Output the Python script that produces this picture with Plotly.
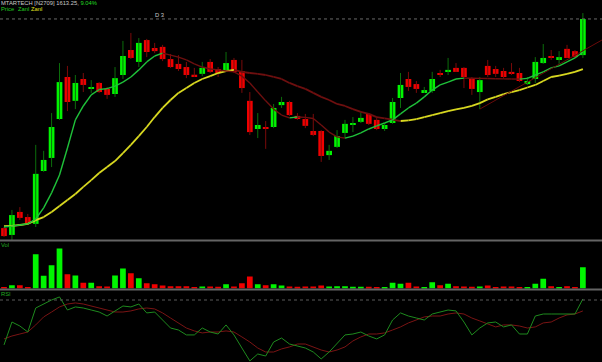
import plotly.graph_objects as go

# ---------------- data ----------------
opens = [877, 853, 934, 916, 892, 1078, 1124, 1261, 1409, 1325,
         1402, 1367, 1388, 1367, 1349, 1416, 1504, 1462, 1539, 1511,
         1515, 1472, 1455, 1444, 1416, 1420, 1462, 1437, 1430, 1469,
         1430, 1325, 1226, 1233, 1233, 1310, 1321, 1272, 1261, 1219,
         1219, 1134, 1163, 1212, 1240, 1251, 1279, 1258, 1226, 1247,
         1335, 1402, 1384, 1356, 1360, 1423, 1427, 1441, 1441, 1405,
         1356, 1448, 1437, 1430, 1427, 1423, 1384, 1402, 1458, 1483,
         1472, 1508, 1500, 1486]
highs = [881, 941, 951, 927, 1170, 1149, 1282, 1458, 1448, 1416,
         1423, 1398, 1391, 1374, 1444, 1536, 1564, 1546, 1543, 1529,
         1522, 1490, 1486, 1462, 1441, 1462, 1472, 1444, 1497, 1476,
         1469, 1356, 1282, 1254, 1314, 1339, 1325, 1282, 1279, 1279,
         1222, 1170, 1222, 1258, 1268, 1286, 1282, 1268, 1247, 1335,
         1423, 1427, 1395, 1374, 1427, 1434, 1476, 1458, 1444, 1409,
         1409, 1469, 1448, 1441, 1458, 1441, 1409, 1479, 1525, 1504,
         1500, 1522, 1504, 1634]
lows = [846, 835, 906, 888, 881, 1075, 1092, 1258, 1289, 1296,
        1356, 1353, 1353, 1332, 1339, 1402, 1472, 1444, 1479, 1493,
        1465, 1441, 1430, 1405, 1409, 1412, 1423, 1409, 1427, 1423,
        1353, 1205, 1194, 1156, 1229, 1300, 1272, 1258, 1229, 1201,
        1110, 1117, 1159, 1194, 1215, 1247, 1240, 1222, 1219, 1244,
        1300, 1360, 1353, 1353, 1353, 1409, 1416, 1427, 1370, 1346,
        1296, 1409, 1409, 1402, 1416, 1391, 1381, 1388, 1455, 1469,
        1455, 1476, 1476, 1476]
closes = [849, 923, 913, 895, 1068, 1117, 1233, 1391, 1321, 1388,
          1381, 1370, 1356, 1346, 1405, 1483, 1476, 1529, 1497, 1500,
          1472, 1444, 1437, 1416, 1412, 1441, 1427, 1423, 1458, 1427,
          1370, 1215, 1240, 1226, 1300, 1321, 1275, 1261, 1237, 1205,
          1131, 1149, 1201, 1244, 1247, 1265, 1244, 1226, 1240, 1321,
          1381, 1374, 1367, 1363, 1402, 1416, 1434, 1427, 1409, 1367,
          1398, 1416, 1420, 1409, 1420, 1395, 1395, 1462, 1476, 1476,
          1479, 1476, 1479, 1613.25]

ma_short = [881, 884, 888, 892, 909, 948, 1001, 1064, 1159, 1258,
            1307, 1346, 1365, 1368, 1377, 1391, 1409, 1434, 1462, 1483,
            1493, 1486, 1479, 1469, 1455, 1444, 1437, 1434, 1430, 1427,
            1412, 1388, 1356, 1325, 1296, 1275, 1265, 1268, 1267, 1263,
            1240, 1215, 1198, 1194, 1201, 1212, 1226, 1237, 1247, 1258,
            1279, 1300, 1317, 1339, 1363, 1381, 1391, 1402, 1405, 1404.5,
            1404, 1403.5, 1403, 1402.5, 1402, 1401.5, 1404, 1416, 1427, 1441,
            1448, 1462, 1476, 1497]
ma_long = [884, 885, 888, 892, 905, 916, 934, 955, 976, 997,
           1022, 1046, 1071, 1092, 1113, 1141, 1170, 1201, 1233, 1268,
           1300, 1328, 1353, 1370, 1388, 1402, 1412, 1423, 1430, 1434,
           1427, 1423, 1420, 1416, 1409, 1402, 1388, 1377, 1367, 1353,
           1339, 1328, 1314, 1307, 1296, 1286, 1279, 1268, 1263, 1259,
           1254, 1256, 1261, 1268, 1275, 1282, 1289, 1295, 1300, 1307,
           1317, 1330, 1339, 1349, 1356, 1363, 1372, 1381, 1395, 1409,
           1414, 1420, 1427, 1437]

volume = [60, 200, 200, 80, 2060, 760, 1400, 2400, 860, 780,
          340, 340, 140, 120, 780, 1200, 920, 620, 320, 260,
          180, 140, 140, 140, 80, 120, 120, 100, 260, 120,
          320, 720, 260, 200, 260, 180, 120, 100, 120, 120,
          180, 120, 140, 140, 100, 100, 100, 80, 60, 340,
          280, 340, 120, 40, 380, 200, 280, 140, 120, 100,
          120, 180, 80, 120, 120, 80, 80, 280, 580, 140,
          80, 140, 80, 1280]

rsi = [36.3, 53.5, 50.5, 46.0, 64.0, 67.0, 70.0, 72.3, 62.5, 64.8,
       64.0, 62.5, 61.0, 58.0, 61.8, 65.5, 64.8, 67.0, 60.3, 61.0,
       55.0, 49.0, 47.5, 43.8, 43.8, 49.0, 46.0, 44.5, 51.3, 43.8,
       34.0, 24.3, 29.5, 28.0, 38.5, 41.5, 37.0, 35.5, 34.0, 31.0,
       25.8, 31.0, 37.8, 43.8, 44.5, 46.0, 43.0, 40.8, 43.8, 55.0,
       60.3, 58.0, 56.5, 55.0, 59.5, 61.0, 62.5, 61.8, 53.5, 43.8,
       49.0, 52.8, 53.5, 49.8, 51.3, 44.5, 44.5, 58.0, 59.5, 59.5,
       59.5, 59.5, 59.5, 70.8]
rsi_ma = [40.8, 43.0, 44.5, 46.0, 51.3, 57.3, 61.0, 64.8, 67.0, 67.8,
          67.0, 65.5, 64.0, 62.5, 61.0, 61.0, 61.8, 63.3, 64.0, 63.3,
          60.3, 56.5, 52.8, 49.0, 46.8, 45.3, 46.0, 46.0, 46.8, 46.0,
          42.3, 38.5, 34.0, 31.0, 31.0, 33.3, 34.8, 37.0, 37.0, 34.8,
          32.5, 31.0, 32.5, 34.8, 39.3, 42.3, 44.5, 44.5, 45.3, 47.5,
          49.8, 52.8, 55.0, 57.3, 58.0, 58.0, 59.5, 60.3, 59.5, 56.5,
          54.3, 52.0, 49.8, 51.3, 51.3, 50.5, 49.0, 49.8, 52.8, 53.5,
          56.5, 58.8, 59.5, 61.8]

trend_x = [60, 75.4]
trend_y = [1296, 1539]
rsi_level = 70
title_text = "MTARTECH [N2709] 1613.25,"
change_text = "9.04%"
legend_items = ["Price", "Zanl", "Zanl"]

# ---------------- styling ----------------
UP = "#00F500"
DOWN = "#F00000"
UP_WICK = "#0B6E0B"
DOWN_WICK = "#7A0A0A"
MA_UP = "#1FC23A"
MA_DOWN = "#6E0F0F"
LONG_UP = "#D8D820"
RSI_C = "#1E8A1E"
RSI_MA_C = "#7A1414"

n = len(closes)
idx = list(range(n))
is_up = [c >= o for o, c in zip(opens, closes)]

fig = go.Figure()

# wicks
for up, col in ((True, UP_WICK), (False, DOWN_WICK)):
    wx, wy = [], []
    for i in idx:
        if is_up[i] == up:
            wx += [i, i, None]
            wy += [lows[i], highs[i], None]
    fig.add_trace(go.Scatter(x=wx, y=wy, mode="lines", line=dict(color=col, width=1),
                             hoverinfo="skip", yaxis="y"))

# bodies
bases = [min(o, c) for o, c in zip(opens, closes)]
hts = [max(abs(c - o), 5) for o, c in zip(opens, closes)]
fig.add_trace(go.Bar(x=idx, y=hts, base=bases, width=0.72,
                     marker=dict(color=[UP if u else DOWN for u in is_up], line=dict(width=0)),
                     yaxis="y", hoverinfo="skip"))


def colored_segments(vals, up_col, down_col, width):
    for direction, col in ((1, up_col), (-1, down_col)):
        sx, sy = [], []
        for i in range(n - 1):
            rising = vals[i + 1] >= vals[i]
            if (rising and direction == 1) or (not rising and direction == -1):
                sx += [i, i + 1, None]
                sy += [vals[i], vals[i + 1], None]
        fig.add_trace(go.Scatter(x=sx, y=sy, mode="lines",
                                 line=dict(color=col, width=width, shape="linear"),
                                 hoverinfo="skip", yaxis="y", connectgaps=False))


colored_segments(ma_long, LONG_UP, MA_DOWN, 1.8)
colored_segments(ma_short, MA_UP, MA_DOWN, 1.4)

# trend line
fig.add_trace(go.Scatter(x=trend_x, y=trend_y, mode="lines",
                         line=dict(color="#6A0A0A", width=1), hoverinfo="skip", yaxis="y"))

# volume
fig.add_trace(go.Bar(x=idx, y=volume, width=0.72,
                     marker=dict(color=[UP if u else DOWN for u in is_up], line=dict(width=0)),
                     yaxis="y2", hoverinfo="skip"))

# RSI
fig.add_trace(go.Scatter(x=idx, y=rsi_ma, mode="lines", line=dict(color=RSI_MA_C, width=1),
                         yaxis="y3", hoverinfo="skip"))
fig.add_trace(go.Scatter(x=idx, y=rsi, mode="lines", line=dict(color=RSI_C, width=1),
                         yaxis="y3", hoverinfo="skip"))

W, H = 602, 362


def py(p):
    return 1 - p / H


shapes = [
    dict(type="line", xref="paper", x0=0, x1=1, yref="y", y0=closes[-1], y1=closes[-1],
         line=dict(color="#6A6A6A", width=1, dash="dot")),
    dict(type="line", xref="paper", x0=0, x1=1, yref="paper", y0=py(240.5), y1=py(240.5),
         line=dict(color="#646464", width=2)),
    dict(type="line", xref="paper", x0=0, x1=1, yref="paper", y0=py(289.5), y1=py(289.5),
         line=dict(color="#646464", width=2)),
    dict(type="line", xref="paper", x0=0, x1=1, yref="y3", y0=rsi_level, y1=rsi_level,
         line=dict(color="#5A5A5A", width=1, dash="dot")),
]

font = "Liberation Sans"
FS = 5.8


def label(px, ptop, text, color, anchor="left"):
    return dict(xref="paper", yref="paper", x=px / W, y=py(ptop), xanchor=anchor, yanchor="top",
                showarrow=False, text=text, font=dict(family=font, size=FS, color=color),
                borderpad=0)


legend_cols = ["#22CC22", "#22CC22", "#E0E020"]
legend_x = [0, 17, 30]
annotations = [
    label(0, -1,
          f"<span style='color:#C8C8C8'>{title_text} </span><span style='color:#22DD22'>{change_text}</span>",
          "#C8C8C8"),
    label(159, 11, "D 3", "#C8C8C8", "center"),
    label(0, 241, "Vol", "#22AA22"),
    label(0, 290, "RSI", "#22AA22"),
]
for t, c, x in zip(legend_items, legend_cols, legend_x):
    annotations.append(label(x, 5, t, c))

ax_common = dict(showgrid=False, zeroline=False, showticklabels=False, ticks="", showline=False)
fig.update_layout(
    width=W, height=H, margin=dict(l=0, r=0, t=0, b=0),
    paper_bgcolor="#000000", plot_bgcolor="#000000",
    showlegend=False, barmode="overlay",
    xaxis=dict(range=[-0.504, 75.41], anchor="y3", **ax_common),
    yaxis=dict(domain=[py(240), 1], range=[835.2, 1680], **ax_common),
    yaxis2=dict(domain=[py(288.5), py(242)], range=[0, 2790], **ax_common),
    yaxis3=dict(domain=[0, py(292)], range=[23.5, 76], **ax_common),
    shapes=shapes, annotations=annotations,
)

fig.write_html("out.html", config={"displayModeBar": False},
               post_script="document.body.style.margin='0';document.body.style.background='#000';")
